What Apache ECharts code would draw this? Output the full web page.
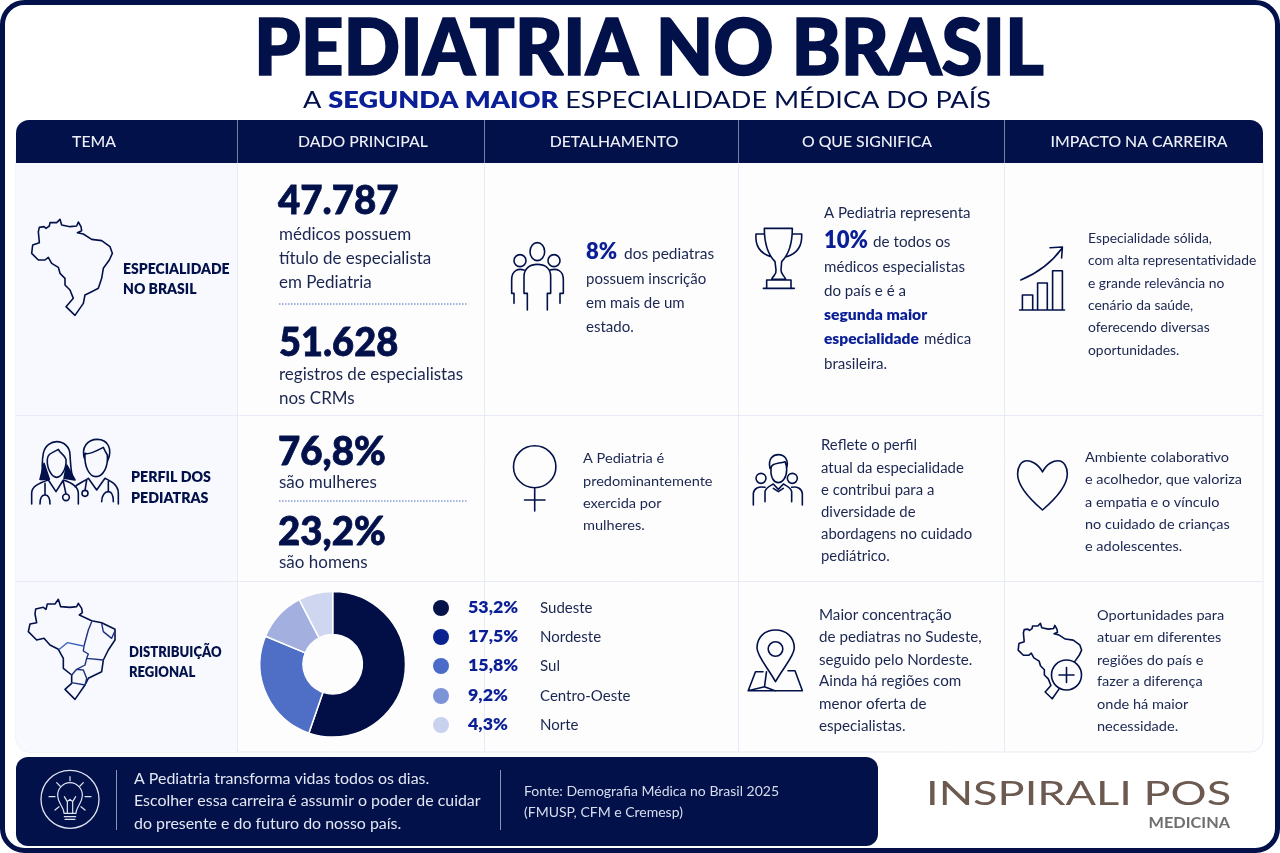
<!DOCTYPE html>
<html>
<head>
<meta charset="utf-8">
<title>Pediatria no Brasil</title>
<script src="https://cdn.jsdelivr.net/npm/echarts@6/dist/echarts.min.js"></script>
<style>html,body{margin:0;padding:0;background:#fff}#main{width:1280px;height:853px}</style>
</head>
<body>
<div id="main"></div>
<script>
// dados
var headers = ['TEMA', 'DADO PRINCIPAL', 'DETALHAMENTO', 'O QUE SIGNIFICA', 'IMPACTO NA CARREIRA'];
var regionNames = ['Sudeste', 'Nordeste', 'Sul', 'Centro-Oeste', 'Norte'];
var regionShares = ['53,2%', '17,5%', '15,8%', '9,2%', '4,3%'];
// a rosca da imagem tem so quatro fatias, medidas pelo angulo
var sliceNames = ['Fatia 1', 'Fatia 2', 'Fatia 3', 'Fatia 4'];
var sliceValues = [55.3, 26.0, 11.1, 7.6];
var sliceColors = ['#020f47', '#4f6fc6', '#a3b0df', '#ced6f0'];
var dotColors = ['#04124a', '#0a2290', '#4a6cc8', '#7c93d8', '#c8d2ee'];

var bigNumbers = ['47.787', '51.628', '76,8%', '23,2%'];
var text47 = ['médicos possuem', 'título de especialista', 'em Pediatria'];
var text51 = ['registros de especialistas', 'nos CRMs'];
var textMulher = ['A Pediatria é', 'predominantemente', 'exercida por', 'mulheres.'];
var textEstado = ['possuem inscrição', 'em mais de um', 'estado.'];
var textPerfil = ['Reflete o perfil', 'atual da especialidade', 'e contribui para a', 'diversidade de', 'abordagens no cuidado', 'pediátrico.'];
var textConc = ['Maior concentração', 'de pediatras no Sudeste,', 'seguido pelo Nordeste.', 'Ainda há regiões com', 'menor oferta de', 'especialistas.'];
var textSolida = ['Especialidade sólida,', 'com alta representatividade', 'e grande relevância no', 'cenário da saúde,', 'oferecendo diversas', 'oportunidades.'];
var textAmb = ['Ambiente colaborativo', 'e acolhedor, que valoriza', 'a empatia e o vínculo', 'no cuidado de crianças', 'e adolescentes.'];
var textOport = ['Oportunidades para', 'atuar em diferentes', 'regiões do país e', 'fazer a diferença', 'onde há maior', 'necessidade.'];
var textRodape = ['A Pediatria transforma vidas todos os dias.', 'Escolher essa carreira é assumir o poder de cuidar', 'do presente e do futuro do nosso país.'];
var textFonte = ['Fonte: Demografia Médica no Brasil 2025', '(FMUSP, CFM e Cremesp)'];

var NAVY = '#03114a', INK = '#1b2650', BLUE = '#0a1f96', LINE = '#e7ebf7', FONT = 'Lato';
var g = [];
var iconCount = 0;

function label(x, y, text, size, o) {
    o = o || {};
    g.push({
        type: 'text', x: x, y: y, scaleX: o.sx || 1, silent: true,
        style: {
            text: text, x: 0, y: 0, font: (o.w || 400) + ' ' + size + 'px ' + FONT,
            fill: o.c || INK, textAlign: o.a || 'left', textVerticalAlign: 'middle',
            stroke: o.bold ? (o.c || INK) : null, lineWidth: o.bold || 0
        }
    });
}
function lines(x, ys, arr, size, o) {
    arr.forEach(function (s, i) { label(x, ys[i], s, size, o); });
}
function rect(x, y, w, h, r, fill, stroke) {
    g.push({ type: 'rect', silent: true, shape: { x: x, y: y, width: w, height: h, r: r },
        style: { fill: fill, stroke: stroke || null, lineWidth: stroke ? 1 : 0 } });
}
function seg(x1, y1, x2, y2, color, dash) {
    g.push({ type: 'line', silent: true, shape: { x1: x1, y1: y1, x2: x2, y2: y2 },
        style: { stroke: color, lineWidth: 1, lineDash: dash || null } });
}
// icone desenhado em coordenadas do recorte (escala s)
function icon(x, y, s, d, o) {
    o = o || {};
    var name = 'icone' + (iconCount++);
    echarts.graphic.registerShape(name, echarts.graphic.extendPath(d));
    g.push({
        type: name, x: x, y: y, scaleX: s, scaleY: s, silent: true,
        style: { fill: o.fill || 'none', stroke: o.stroke || NAVY, lineWidth: (o.lw || 1.6) / s, lineJoin: 'round', lineCap: 'round' }
    });
}
function poly(pts) {
    return 'M' + pts.map(function (p) { return p[0] + ' ' + p[1]; }).join('L') + 'Z';
}

// moldura
rect(2.5, 2.5, 1275, 848, 22, '#fff', null);
g.push({ type: 'rect', silent: true, shape: { x: 2.5, y: 2.5, width: 1275, height: 848, r: 22 }, style: { fill: 'none', stroke: NAVY, lineWidth: 5 } });

// titulo
label(649, 49.5, 'PEDIATRIA NO BRASIL', 78, { w: 900, a: 'center', c: NAVY, sx: 0.955, bold: 1.6 });
g.push({
    type: 'text', x: 647, y: 100.5, scaleX: 1.177, silent: true,
    style: {
        text: '{a|A }{b|SEGUNDA MAIOR}{a| ESPECIALIDADE MÉDICA DO PAÍS}', x: 0, y: 0, textAlign: 'center', textVerticalAlign: 'middle',
        rich: {
            a: { font: '400 23px ' + FONT, fill: NAVY },
            b: { font: '800 23px ' + FONT, fill: BLUE }
        }
    }
});

// tabela
var colX = [16, 237, 484, 738, 1004, 1263];
rect(16, 150, 1247, 602, [0, 0, 13, 13], '#fdfdfe', LINE);
rect(16, 163, 221, 589, [0, 0, 0, 13], '#f8f9fe', null);
rect(16, 120, 1247, 43, [13, 13, 0, 0], NAVY, null);
colX.slice(1, 5).forEach(function (x) {
    seg(x + 0.5, 120, x + 0.5, 163, '#7480a8');
    seg(x + 0.5, 163, x + 0.5, 752, LINE);
});
seg(16, 415.5, 1263, 415.5, LINE);
seg(16, 581.5, 1263, 581.5, LINE);
var headCx = [94, 363, 614, 867, 1139];
headers.forEach(function (h, i) { label(headCx[i], 142, h, 15.8, { w: 500, a: 'center', c: '#eef0f8' }); });

// coluna tema
lines(123, [269, 289], ['ESPECIALIDADE', 'NO BRASIL'], 14, { w: 800, c: NAVY, sx: 1.0 });
lines(131, [477, 498], ['PERFIL DOS', 'PEDIATRAS'], 14.5, { w: 800, c: NAVY, sx: 0.98 });
lines(129, [652, 672], ['DISTRIBUIÇÃO', 'REGIONAL'], 14.5, { w: 800, c: NAVY, sx: 0.9 });

// contorno do Brasil, unidades do recorte
var brasil = [[55,65],[58,52],[72,50],[78,55],[88,48],[90,38],[110,38],[120,28],[125,45],[150,50],[170,48],[175,36],[183,50],[185,62],[172,68],[190,72],[215,88],[245,92],[270,110],[277,130],[268,150],[250,175],[245,205],[235,235],[215,245],[195,255],[190,280],[165,316],[138,290],[160,265],[150,240],[135,225],[135,205],[120,190],[115,172],[95,160],[85,142],[75,150],[55,150],[35,130],[38,105],[58,98]];
icon(20, 210, 1 / 3, poly(brasil));
var brasilReg = [[45,72],[47,57],[70,52],[78,58],[82,42],[105,42],[115,28],[122,50],[150,52],[170,50],[175,40],[185,55],[187,68],[178,75],[215,92],[245,98],[285,118],[285,150],[265,180],[250,210],[245,245],[205,265],[195,285],[165,328],[135,298],[155,280],[155,255],[130,235],[130,205],[115,178],[90,165],[72,145],[50,150],[25,125],[30,102],[50,98]];
icon(20, 590, 1 / 3, poly(brasilReg));
icon(20, 590, 1 / 3, 'M215 95L205 120L192 168L190 183L205 192L200 205L195 225L170 238L155 255M200 205L250 210M170 238L190 240L200 265L195 285M155 278L195 285M245 100L250 125L275 145L285 122', { stroke: '#1d3180', lw: 1.4 });
icon(20, 590, 1 / 3, 'M118 178L142 158L190 168', { stroke: '#3c63c0', lw: 1.4 });
icon(1009, 616, 0.262, poly(brasil));

// medicos
icon(20, 430, 1 / 3, 'M72 100L60 148L88 148ZM140 105L165 150L132 145Z', { fill: NAVY });
icon(20, 430, 1 / 3, 'M68 148C66 120 66 90 70 70C75 45 95 35 110 35C130 35 150 50 150 75C152 100 152 130 160 148M82 88C82 70 100 68 115 58C120 70 135 75 138 88C140 115 125 142 110 142C95 142 80 115 82 88ZM35 222L35 190C35 170 55 160 85 150L108 185L130 150C155 158 175 170 175 190L175 222M75 160L75 195M60 222C60 205 65 195 75 195C85 195 90 205 90 222M130 155L138 192M148 202A10 10 0 1 1 128 202A10 10 0 1 1 148 202ZM195 90C180 50 205 28 232 28C262 28 280 55 262 95M195 70C205 75 235 60 250 52C255 65 260 70 262 75C265 110 250 140 228 140C208 140 192 110 195 70ZM165 170C175 160 190 155 205 145L230 180L255 145C275 155 295 165 295 190L295 222M200 150L195 181M204 190A9 9 0 1 1 186 190A9 9 0 1 1 204 190ZM265 155L265 185M245 215C245 195 255 185 265 185C275 185 280 195 280 215');

// coluna dado principal
label(278, 201.5, bigNumbers[0], 40, { w: 900, c: NAVY, bold: 0.8, sx: 0.96 });
lines(279, [234.5, 258.5, 282.5], text47, 16.5, { sx: 1.03 });
seg(279, 304, 467, 304, '#4a6ac0', [1.5, 1.5]);
label(279, 343.5, bigNumbers[1], 40, { w: 900, c: NAVY, bold: 0.8, sx: 0.95 });
lines(279, [374.5, 398.5], text51, 16.5, { sx: 1.03 });
label(278, 452.5, bigNumbers[2], 40, { w: 900, c: NAVY, bold: 0.8, sx: 0.96 });
label(279, 482.5, 'são mulheres', 16.5, { sx: 1.03 });
seg(279, 501, 467, 501, '#4a6ac0', [1.5, 1.5]);
label(278, 532.5, bigNumbers[3], 40, { w: 900, c: NAVY, bold: 0.8, sx: 0.96 });
label(279, 562.5, 'são homens', 16.5, { sx: 1.03 });

// legenda da rosca
var legendY = [608, 637, 666, 696, 725];
regionNames.forEach(function (n, i) {
    g.push({ type: 'circle', silent: true, shape: { cx: 441, cy: legendY[i], r: 8 }, style: { fill: dotColors[i] } });
    label(468, legendY[i], regionShares[i], 17, { w: 800, c: BLUE, sx: 1.05 });
    label(540, legendY[i], n, 15.5, { sx: 0.97 });
});

// coluna detalhamento
icon(500, 225, 1 / 3, 'M134 80A22 27 0 1 1 90 80A22 27 0 1 1 134 80ZM78 107A18 18 0 1 1 42 107A18 18 0 1 1 78 107ZM180 107A18 18 0 1 1 144 107A18 18 0 1 1 180 107ZM82 255L82 205L72 205L72 155C72 130 90 118 112 118C135 118 152 130 152 155L152 205L142 205L142 255M72 135C55 130 35 135 35 165L35 205L42 205L42 235M150 135C170 130 190 135 190 165L190 205L180 205L180 235');
label(586, 252, '8%', 22, { w: 800, c: BLUE });
label(624, 254, 'dos pediatras', 15, { sx: 1.03 });
lines(586, [279, 303, 327], textEstado, 15);
icon(0, 0, 1, 'M555.9 466.7A21.2 21 0 1 1 513.5 466.7A21.2 21 0 1 1 555.9 466.7ZM534.7 488L534.7 511M524.5 500L545 500');
lines(583, [458, 481, 503, 525], textMulher, 14, { sx: 1.04 });

// coluna significado
icon(745, 220, 1 / 3, 'M58 25L142 25C142 70 130 105 110 125L108 150C108 165 118 165 122 178L80 178C85 165 95 165 93 150L90 125C70 105 58 70 58 25ZM58 42L33 42C30 75 45 100 78 110M142 42L170 42C172 75 158 100 125 110M65 180L65 205M138 180L138 205M65 180L138 180M55 205L148 205');
label(824, 213, 'A Pediatria representa', 14.8, { sx: 1.02 });
label(824, 240, '10%', 24, { w: 800, c: BLUE, sx: 0.92 });
label(873, 242, 'de todos os', 14.8, { sx: 1.03 });
lines(824, [267, 291], ['médicos especialistas', 'do país e é a'], 14.8, { sx: 1.02 });
label(824, 315, 'segunda maior', 14.8, { w: 800, c: BLUE, sx: 1.06 });
label(824, 339, 'especialidade', 14.8, { w: 800, c: BLUE, sx: 1.05 });
label(924, 339, 'médica', 14.8, { sx: 1.02 });
label(824, 364, 'brasileira.', 14.8, { sx: 1.02 });

icon(745, 450, 1 / 3, 'M75 55C68 25 85 14 100 14C118 14 132 28 125 55M78 55C78 40 95 42 120 35C125 45 125 50 125 60C125 85 110 98 100 98C88 98 76 85 78 55ZM63 85A15 15 0 1 1 33 85A15 15 0 1 1 63 85ZM157 85A15 15 0 1 1 127 85A15 15 0 1 1 157 85ZM60 155L60 125C62 112 75 108 85 102L100 118L115 102C125 108 138 112 140 125L140 155M25 165L25 130C27 115 40 108 60 112M172 165L172 130C170 115 155 108 140 112M85 115L100 125L115 115');
lines(821, [445, 468, 490, 512, 534, 556], textPerfil, 14.6, { sx: 1.02 });

icon(0, 0, 1, 'M775.5 681.7C768 668 757 656 757 648C757 637 765 630 775.5 630C786 630 794.3 637 794.3 648C794.3 656 783 668 775.5 681.7ZM782.8 649A7.3 7.3 0 1 1 768.2 649A7.3 7.3 0 1 1 782.8 649ZM763 671.7L755.5 671.7L748.2 690.7L802.4 690.7L795 670.7L788 670.7M748.2 690.7L764.5 686.7L775.5 691M766.5 671.7L764.5 686.7');
lines(819, [615, 637, 660, 681, 704, 726], textConc, 14.6, { sx: 1.04 });

// coluna impacto
icon(0, 0, 1, 'M1020.8 280C1038 273 1052 262 1062 248.3M1050 247.7L1062.4 247L1061.6 258M1022.4 310L1022.4 295L1032.7 295L1032.7 310M1037.6 310L1037.6 283L1047.3 283L1047.3 310M1052.6 310L1052.6 270.7L1062.4 270.7L1062.4 310M1019.6 310L1064.5 310');
lines(1088, [238, 260, 283, 305, 327, 350], textSolida, 14, { sx: 0.99 });

icon(0, 0, 1, 'M1042.5 472C1038 463 1030 460.7 1027 460.7C1021 460.7 1017.6 467 1017.6 474C1017.6 487 1032 501 1042.5 510C1053 501 1067.3 487 1067.3 474C1067.3 467 1064 460.7 1058 460.7C1054 460.7 1047 463 1042.5 472Z');
lines(1085, [457, 479, 502, 524, 546], textAmb, 14, { sx: 1.035 });

g.push({ type: 'circle', silent: true, shape: { cx: 1066.5, cy: 675, r: 15 }, style: { fill: '#fdfdff', stroke: NAVY, lineWidth: 1.6 } });
icon(0, 0, 1, 'M1066.5 667.5L1066.5 682.5M1059 675L1074 675');
lines(1097, [615, 637, 660, 681, 704, 726], textOport, 14, { sx: 1.04 });

// faixa inferior
rect(16, 757, 862, 89, 12, NAVY, null);
g.push({ type: 'circle', silent: true, shape: { cx: 70, cy: 799.3, r: 29 }, style: { fill: 'none', stroke: '#dfe4f2', lineWidth: 1.3 } });
icon(30, 760, 1 / 3, 'M102 160C102 140 83 130 83 105C83 85 100 68 120 68C140 68 157 85 157 105C157 130 138 140 138 160ZM103 170L137 170M105 178L135 178M112 160L112 125L103 110M128 160L128 125L137 110M112 125L120 118L128 125M120 50L120 62M80 68L90 78M160 68L150 78M57 110L75 110M165 110L183 110M75 150L87 140M165 150L153 140', { stroke: '#dfe4f2', lw: 1.2 });
seg(116.5, 770, 116.5, 830, '#8a93b5');
seg(500.5, 770, 500.5, 830, '#8a93b5');
lines(134, [779, 801, 824], textRodape, 15.5, { c: '#e3e7f3', sx: 1.027 });
lines(524, [791, 812], textFonte, 14, { c: '#d8ddee' });

// marca
label(926, 795, 'INSPIRALI POS', 32, { w: 400, c: '#6c5a50', sx: 1.41 });
label(1230, 823, 'MEDICINA', 15.5, { w: 700, c: '#6e6e6e', a: 'right', sx: 1.05 });

var myChart = echarts.init(document.getElementById('main'));
myChart.setOption({
    animation: false,
    backgroundColor: '#fff',
    graphic: { elements: g },
    series: [{
        type: 'pie',
        silent: true,
        center: [332.7, 664.3],
        radius: [29.7, 72.8],
        startAngle: 90,
        label: { show: false },
        labelLine: { show: false },
        itemStyle: { borderColor: '#fff', borderWidth: 1.5 },
        data: sliceNames.map(function (n, i) {
            return { name: n, value: sliceValues[i], itemStyle: { color: sliceColors[i] } };
        })
    }]
});
</script>
</body>
</html>
